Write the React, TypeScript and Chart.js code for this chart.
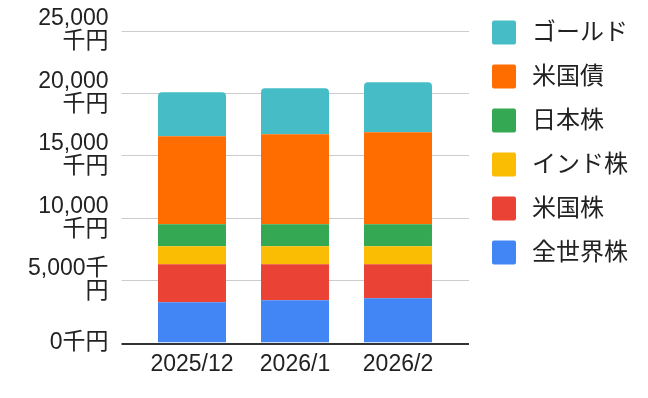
import React, { useEffect, useRef } from "react";
import { Chart, registerables } from "chart.js";

Chart.register(...registerables);

const categories = ["2025/12", "2026/1", "2026/2"];
const seriesNames = ["全世界株", "米国株", "インド株", "日本株", "米国債", "ゴールド"];
const worldStock = [3230, 3390, 3550];
const usStock = [3040, 2880, 2720];
const indiaStock = [1450, 1450, 1450];
const japanStock = [1760, 1760, 1760];
const usBond = [7050, 7210, 7370];
const gold = [3530, 3690, 4010];
const seriesColors = ["#4285F4", "#EA4335", "#FBBC04", "#34A853", "#FF6D01", "#46BDC6"];
const yTickValues = [0, 5000, 10000, 15000, 20000, 25000];
const yTickLabels = [["0千円"], ["5,000千", "円"], ["10,000", "千円"], ["15,000", "千円"], ["20,000", "千円"], ["25,000", "千円"]];

const FONT = "'Liberation Sans', 'Noto Sans CJK JP', sans-serif";
const TEXT = "#222222";

const gridPlugin = {
  id: "extGrid",
  beforeDatasetsDraw(chart: any) {
    const { ctx, chartArea, scales } = chart;
    const y = scales.y;
    const x0 = chartArea.left - 19;
    const x1 = chartArea.right + 19.5;
    ctx.save();
    ctx.strokeStyle = "#cccccc";
    ctx.lineWidth = 1;
    y.ticks.forEach((t: any) => {
      if (t.value === 0) return;
      const py = Math.round(y.getPixelForValue(t.value)) + 0.5;
      ctx.beginPath();
      ctx.moveTo(x0, py);
      ctx.lineTo(x1, py);
      ctx.stroke();
    });
    ctx.restore();
  },
  afterDatasetsDraw(chart: any) {
    const { ctx, chartArea, scales } = chart;
    const y = scales.y;
    const py = Math.round(y.getPixelForValue(0)) + 1;
    ctx.save();
    ctx.strokeStyle = "#333333";
    ctx.lineWidth = 2;
    ctx.beginPath();
    ctx.moveTo(chartArea.left - 19, py);
    ctx.lineTo(chartArea.right + 19.5, py);
    ctx.stroke();
    ctx.restore();
  },
};

const legendPlugin = {
  id: "sideLegend",
  afterDraw(chart: any) {
    const { ctx } = chart;
    const ds = chart.data.datasets.slice().reverse();
    ctx.save();
    ctx.font = `24px ${FONT}`;
    ctx.textBaseline = "middle";
    ctx.textAlign = "left";
    ds.forEach((d: any, i: number) => {
      const top = 20.5 + i * 44;
      ctx.fillStyle = d.backgroundColor;
      ctx.beginPath();
      (ctx as any).roundRect(492, top, 24, 24, 2);
      ctx.fill();
      ctx.fillStyle = TEXT;
      ctx.fillText(d.label, 532, top + 12.5);
    });
    ctx.restore();
  },
};

export default function App() {
  const ref = useRef<HTMLCanvasElement>(null);
  useEffect(() => {
    document.body.style.margin = "0";
    const values = [worldStock, usStock, indiaStock, japanStock, usBond, gold];
    const chart = new Chart(ref.current!, {
      type: "bar",
      data: {
        labels: categories,
        datasets: values.map((v, i) => ({
          label: seriesNames[i],
          data: v,
          backgroundColor: seriesColors[i],
          borderWidth: 0,
          borderRadius: i === values.length - 1 ? { topLeft: 4, topRight: 4, bottomLeft: 0, bottomRight: 0 } : 0,
          borderSkipped: i === values.length - 1 ? "bottom" : false,
          categoryPercentage: 1,
          barPercentage: 0.66,
        })),
      },
      options: {
        responsive: false,
        animation: false,
        devicePixelRatio: 1,
        layout: { padding: { left: 0, right: 198.5, top: 30.5, bottom: 0 } },
        plugins: { legend: { display: false }, tooltip: { enabled: false } },
        scales: {
          x: {
            stacked: true,
            offset: true,
            grid: { display: false, drawTicks: false },
            border: { display: false },
            ticks: { color: TEXT, font: { family: FONT, size: 23, lineHeight: 1 }, padding: 11, maxRotation: 0 },
            afterFit: (s: any) => { s.height = 398 - 342.5; s.paddingLeft = 0; s.paddingRight = 0; },
          },
          y: {
            stacked: true,
            min: 0,
            max: 25000,
            afterBuildTicks: (s: any) => { s.ticks = yTickValues.map((v) => ({ value: v })); },
            grid: { display: false, drawTicks: false },
            border: { display: false },
            ticks: {
              color: TEXT,
              font: { family: FONT, size: 23, lineHeight: 1 },
              padding: 32,
              callback: (v: any) => {
                const i = yTickValues.indexOf(Number(v));
                return i >= 0 ? yTickLabels[i] : "";
              },
            },
            afterFit: (s: any) => { s.width = 140.5; s.paddingTop = 0; s.paddingBottom = 0; },
          },
        },
      },
      plugins: [gridPlugin, legendPlugin],
    });
    return () => chart.destroy();
  }, []);
  return (
    <div style={{ width: 648, height: 398 }}>
      <canvas ref={ref} width={648} height={398} style={{ display: "block" }} />
    </div>
  );
}
